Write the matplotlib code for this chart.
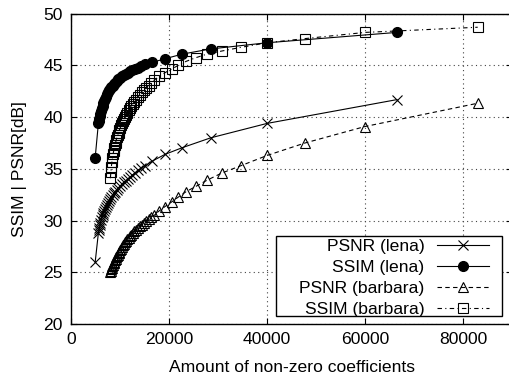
import matplotlib
matplotlib.use("Agg")
import matplotlib.pyplot as plt
from matplotlib.patches import Rectangle

# coefficients kept (lena) and quality values
lena_coeffs = [4900, 5550, 5650, 5750, 5860, 5980, 6110, 6250, 6400, 6560, 6730,
               6910, 7100, 7300, 7510, 7730, 7960, 8200, 8450, 8710, 8990, 9290,
               9610, 9950, 10310, 10690, 11090, 11520, 11980, 12480, 13030,
               13630, 14300, 15120, 16540, 19130, 22660, 28450, 40000, 66500]
psnr_lena = [26.0, 28.8, 29.05, 29.3, 29.55, 29.8, 30.05, 30.3, 30.5, 30.7, 30.9,
             31.1, 31.3, 31.5, 31.7, 31.9, 32.1, 32.3, 32.5, 32.65, 32.8, 33.0,
             33.15, 33.35, 33.5, 33.7, 33.85, 34.0, 34.2, 34.4, 34.6,
             34.85, 35.05, 35.3, 35.75, 36.4, 37.05, 38.0, 39.4, 41.7]
ssim_lena = [36.1, 39.4, 39.6, 39.85, 40.1, 40.35, 40.6, 40.85, 41.1, 41.35, 41.6,
             41.8, 42.0, 42.2, 42.4, 42.6, 42.75, 42.9, 43.05, 43.2, 43.35, 43.5,
             43.65, 43.8, 43.95, 44.05, 44.2, 44.3, 44.45, 44.55, 44.7,
             44.8, 44.95, 45.1, 45.3, 45.65, 46.1, 46.6, 47.2, 48.2]

# coefficients kept (barbara) and quality values
barbara_coeffs = [8000, 8100, 8200, 8310, 8420, 8540, 8660, 8790, 8920, 9060,
                  9200, 9350, 9500, 9660, 9830, 10000, 10180, 10370, 10570,
                  10780, 11000, 11230, 11470, 11720, 11990, 12270, 12570, 12890,
                  13230, 13590, 13970, 14380, 14820, 15290, 15800, 16350, 16980,
                  17990, 19130, 20500, 21800, 23460, 25430, 27700, 30750, 34600,
                  40000, 47700, 60000, 83000]
psnr_barbara = [25.0, 25.15, 25.3, 25.45, 25.6, 25.75, 25.9, 26.0, 26.15, 26.3,
                26.45, 26.6, 26.7, 26.85, 27.0, 27.15, 27.3, 27.45, 27.6,
                27.75, 27.9, 28.05, 28.2, 28.35, 28.5, 28.65, 28.8, 28.95,
                29.1, 29.3, 29.45, 29.6, 29.8, 30.0, 30.15, 30.35, 30.55,
                30.95, 31.35, 31.8, 32.25, 32.8, 33.3, 33.9, 34.6, 35.3,
                36.3, 37.5, 39.1, 41.35]
ssim_barbara = [34.1, 34.7, 35.2, 35.65, 36.05, 36.4, 36.7, 37.0, 37.3, 37.55,
                37.8, 38.05, 38.3, 38.5, 38.75, 38.95, 39.2, 39.4, 39.6,
                39.85, 40.05, 40.25, 40.45, 40.7, 40.9, 41.1, 41.3, 41.5,
                41.7, 41.95, 42.15, 42.4, 42.6, 42.85, 43.05, 43.3, 43.6,
                43.95, 44.3, 44.65, 45.0, 45.4, 45.75, 46.1, 46.4, 46.75,
                47.2, 47.6, 48.2, 48.7]

x_ticks = [0, 20000, 40000, 60000, 80000]
y_ticks = [20, 25, 30, 35, 40, 45, 50]

plt.rcParams['font.family'] = ['Liberation Sans', 'DejaVu Sans']
fs = 12.6

fig = plt.figure(figsize=(5.10, 3.76), dpi=100)
ax = fig.add_axes([0.1396, 0.1383, 0.8643, 0.825])

lw = 0.8
ax.plot(lena_coeffs, psnr_lena, color='black', lw=lw, ls='-', marker='x',
        ms=7, mew=0.8, label='PSNR (lena)')
ax.plot(lena_coeffs, ssim_lena, color='black', lw=lw, ls='-', marker='o',
        ms=7, label='SSIM (lena)')
ax.plot(barbara_coeffs, psnr_barbara, color='black', lw=lw, ls=(0, (4, 3)),
        marker='^', ms=6.5, mfc='none', mew=0.8, label='PSNR (barbara)')
ax.plot(barbara_coeffs, ssim_barbara, color='black', lw=lw, ls=(0, (4, 3, 1, 3)),
        marker='s', ms=6.5, mfc='none', mew=0.8, label='SSIM (barbara)')

ax.set_xlim(0, 90000)
ax.set_ylim(20, 50)
ax.set_xticks(x_ticks)
ax.set_yticks(y_ticks)
ax.tick_params(direction='in', length=4.5, width=0.8, top=True, right=True,
               labelsize=fs, pad=6)
ax.grid(True, color='#444444', ls=(0, (1, 3)), lw=0.8)
for s in ax.spines.values():
    s.set_linewidth(1.0)

ax.set_xlabel('Amount of non-zero coefficients', fontsize=fs, labelpad=9)
ax.set_ylabel('SSIM | PSNR[dB]', fontsize=fs, labelpad=12)

# legend box drawn by hand, gnuplot style (text first, sample after)
ax.add_patch(Rectangle((0.4646, 0.0268), 0.512, 0.2579, transform=ax.transAxes,
                       facecolor='white', edgecolor='black', lw=1.0, zorder=5))
leg = ax.legend(loc='lower right', bbox_to_anchor=(0.9485, 0.023),
                borderaxespad=0, borderpad=0, markerfirst=False, fontsize=fs,
                handlelength=2.97, labelspacing=0.32, handletextpad=0.73,
                frameon=False)
leg.set_zorder(6)
for col in leg._legend_handle_box.get_children():
    col.align = 'right'

fig.savefig('out.png', dpi=100)
